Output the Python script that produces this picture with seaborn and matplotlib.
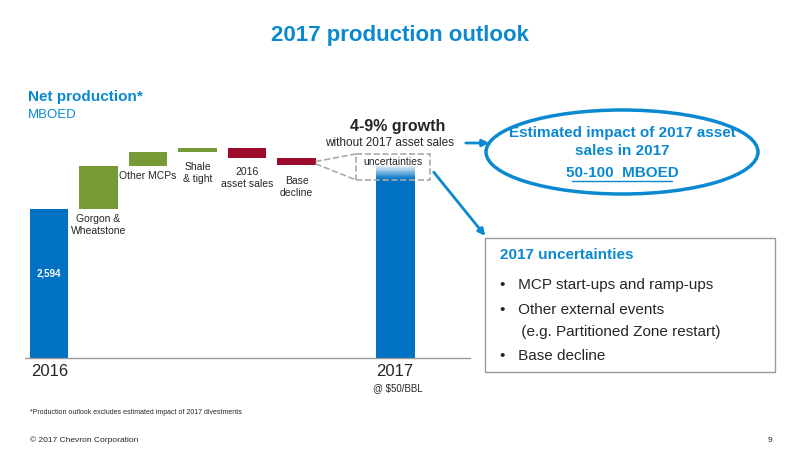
import matplotlib
matplotlib.use("Agg")
import matplotlib.pyplot as plt
import seaborn as sns
from matplotlib.patches import Ellipse, Rectangle, FancyArrowPatch

# waterfall data, MBOED
start_label = "2016"
start_value = 2594
steps = ["Gorgon &\nWheatstone", "Other MCPs", "Shale\n& tight", "2016\nasset sales", "Base\ndecline"]
step_values = [740, 250, 70, -175, -120]
end_label = "2017"
unc_low, unc_high = 3100, 3550

BLUE = "#0071c3"
GREEN = "#769a36"
RED = "#9c0a2c"
TXT = "#0b89d0"

sns.set_theme(style="white")
plt.rcParams['font.family'] = ['Liberation Sans', 'DejaVu Sans']

fig = plt.figure(figsize=(8, 4.5), dpi=100)
ax = fig.add_axes([0, 0, 1, 1])
# pixel mapping: x_px = 49 + 49.5*i, y_px = 358 - v/17.4
ax.set_xlim(-49 / 49.5, (800 - 49) / 49.5)
ax.set_ylim(-92 * 17.4, 358 * 17.4)
ax.axis("off")

def px(x, y):
    return x / 800, 1 - y / 450

w = 0.77
ax.bar(0, start_value, width=w, color=BLUE, edgecolor="none", lw=0)
level = start_value
for i, v in enumerate(step_values, start=1):
    ax.bar(i, v, bottom=level, width=w, color=GREEN if v > 0 else RED, edgecolor="none", lw=0)
    level += v
end_value = level
n_end = len(steps) + 2
solid = end_value - 250
ax.bar(n_end, solid, width=w, color=BLUE, edgecolor="none", lw=0)
nseg = 25
for k in range(nseg):
    b = solid + k * (end_value - solid) / nseg
    ax.bar(n_end, (end_value - solid) / nseg, bottom=b, width=w, color=BLUE,
           alpha=1 - k / nseg, edgecolor="none", lw=0)

ax.axhline(0, xmin=25 / 800, xmax=470 / 800, color="#999999", lw=1)

# uncertainty box
ax.add_patch(Rectangle((n_end - 0.8, unc_low), 1.5, unc_high - unc_low, fill=False,
                       ec="#aaaaaa", ls="--", lw=1.2))
ax.plot([len(steps) + w / 2, n_end - 0.8], [end_value + 60, unc_high], color="#aaaaaa", ls="--", lw=1.2)
ax.plot([len(steps) + w / 2, n_end - 0.8], [end_value + 20, unc_low], color="#aaaaaa", ls="--", lw=1.2)
ax.text(n_end - 0.05, unc_high - 60, "uncertainties", ha="center", va="top", fontsize=7.5)

# labels
ax.text(0, start_value * 0.55, "2,594", color="white", fontsize=7, fontweight="bold", ha="center")
label_y = [214, 171, 162, 167, 176]
for i, (lab, y) in enumerate(zip(steps, label_y), start=1):
    fig.text(*px(49 + 49.5 * i, y), lab, ha="center", va="top", fontsize=7.5, linespacing=1.2)
fig.text(*px(50, 372), start_label, ha="center", va="center", fontsize=12)
fig.text(*px(395, 372), end_label, ha="center", va="center", fontsize=12)
fig.text(*px(398, 388), "@ $50/BBL", ha="center", va="center", fontsize=7)

fig.text(0.5, 1 - 35 / 450, "2017 production outlook", color=TXT, fontsize=16, fontweight="bold",
         ha="center", va="center")
fig.text(*px(28, 97), "Net production*", color=TXT, fontsize=11, fontweight="bold", va="center")
fig.text(*px(28, 115), "MBOED", color=TXT, fontsize=9.5, va="center")

fig.text(*px(398, 127), "4-9% growth", fontsize=11.5, fontweight="bold", ha="center", va="center")
fig.text(*px(390, 143), "without 2017 asset sales", fontsize=8.5, ha="center", va="center")
fig.patches.append(FancyArrowPatch(px(463, 143), px(492, 143), transform=fig.transFigure,
                                   arrowstyle="-|>", mutation_scale=10, color=TXT, lw=2))
fig.patches.append(FancyArrowPatch(px(432, 170), px(487, 238), transform=fig.transFigure,
                                   arrowstyle="-|>", mutation_scale=10, color=TXT, lw=2))

fig.patches.append(Ellipse(px(622, 152), 272 / 800, 84 / 450, transform=fig.transFigure,
                           fc="white", ec=TXT, lw=2.5))
fig.text(*px(622, 142), "Estimated impact of 2017 asset\nsales in 2017", color=TXT, fontsize=11,
         fontweight="bold", ha="center", va="center", linespacing=1.3)
fig.text(*px(622, 173), "50-100  MBOED", color=TXT, fontsize=11, fontweight="bold",
         ha="center", va="center")
fig.lines.append(plt.Line2D([572 / 800, 672 / 800], [1 - 181 / 450] * 2, transform=fig.transFigure,
                            color=TXT, lw=1))

fig.patches.append(Rectangle(px(485, 372), 290 / 800, 134 / 450, transform=fig.transFigure,
                             fill=False, ec="#999999", lw=1))
fig.text(*px(500, 255), "2017 uncertainties", color=TXT, fontsize=11, fontweight="bold", va="center")
bullets = [(285, "•   MCP start-ups and ramp-ups"), (310, "•   Other external events"),
           (332, "     (e.g. Partitioned Zone restart)"), (356, "•   Base decline")]
for y, s in bullets:
    fig.text(*px(500, y), s, fontsize=11, va="center")

fig.text(*px(30, 412), "*Production outlook excludes estimated impact of 2017 divestments", fontsize=5, va="center")
fig.text(*px(30, 440), "© 2017 Chevron Corporation", fontsize=6, va="center")
fig.text(*px(768, 440), "9", fontsize=6, va="center")

fig.savefig("out.png", dpi=100)
